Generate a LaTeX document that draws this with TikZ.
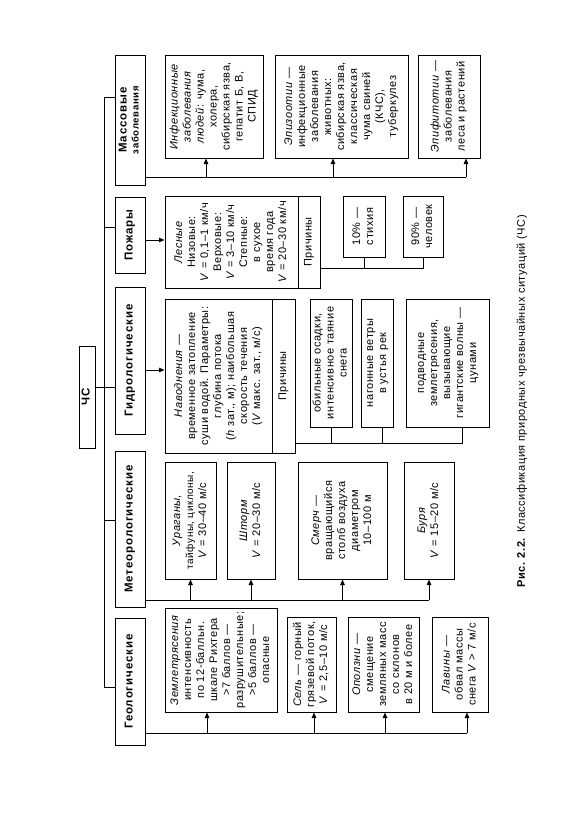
\documentclass[tikz,border=0pt]{standalone}
\usepackage{fontspec}
\setmainfont{Liberation Sans}[LetterSpace=5]
\newfontfamily\hdfont{Liberation Sans}[LetterSpace=8]
\usetikzlibrary{arrows.meta}
\newcommand\bodyfont{\fontsize{11}{13}\selectfont}
\newcommand\hdrfont{\hdfont\bfseries\fontsize{11.5}{12}\selectfont}
\newcommand\bx[6]{\node[box, minimum width={(#4-#2)*1pt}, minimum height={(#5-#3)*1pt}] (#1) at ({(#2+#4)/2},{(#3+#5)/2}) {\rotatebox{90}{\begin{tabular}{@{}c@{}}#6\end{tabular}}};}
\begin{document}
\begin{tikzpicture}[x=1pt,y=-1pt,
  box/.style={draw,line width=1pt,inner sep=0pt,font=\bodyfont},
  ln/.style={line width=1pt},
  arr/.style={ln,-{Triangle[length=5.5pt,width=4.5pt]}}]
\useasboundingbox (0,0) rectangle (583,827);
\fill[white] (0,0) rectangle (583,827);
% top level
\bx{chs}{79}{346}{95}{448}{\hdrfont ЧС}
\bx{mass}{115}{55}{145}{185}{\hdrfont Массовые\\[-1pt]{\hdfont\bfseries\fontsize{9.5}{10}\selectfont заболевания}}
\bx{fire}{115}{197}{145}{273}{\hdrfont Пожары}
\bx{hydro}{115}{287}{145}{434}{\hdrfont Гидрологические}
\bx{meteo}{115}{451}{145}{607}{\hdrfont Метеорологические}
\bx{geo}{115}{618}{145}{745}{\hdrfont Геологические}
% mass diseases
\bx{m1}{165}{55}{263}{158}{\textit{Инфекционные}\\\textit{заболевания}\\\textit{людей}: чума,\\холера,\\сибирская язва,\\гепатит Б, В,\\СПИД}
\bx{m2}{275}{55}{408}{158}{\textit{Эпизоотии} —\\инфекционные\\заболевания\\животных:\\сибирская язва,\\классическая\\чума свиней\\(КЧС),\\туберкулез}
\bx{m3}{418}{55}{480}{158}{\textit{Эпифитотии} —\\заболевания\\леса и растений}
% fires
\bx{forest}{165}{196}{298}{288}{\textit{Лесные}\\Низовые:\\\textit{V} = 0,1–1 км/ч\\Верховые:\\\textit{V} = 3–10 км/ч\\Степные:\\в сухое\\время года\\\textit{V} = 20–30 км/ч}
\bx{fcause}{298}{196}{320}{288}{Причины}
\bx{p10}{343}{196}{385}{257}{10\% —\\стихия}
\bx{p90}{403}{196}{443}{257}{90\% —\\человек}
% hydrological
\bx{flood}{165}{299}{272}{453}{\textit{Наводнения} —\\временное затопление\\суши водой. Параметры:\\глубина потока\\(\textit{h} зат., м); наибольшая\\скорость течения\\(\textit{V} макс. зат., м/с)}
\bx{hcause}{272}{299}{295}{453}{Причины}
\bx{ha}{310}{299}{352}{427}{обильные осадки,\\интенсивное таяние\\снега}
\bx{hb}{361}{299}{393}{427}{нагонные ветры\\в устья рек}
\bx{hc}{406}{299}{489}{427}{подводные\\землетрясения,\\вызывающие\\гигантские волны —\\цунами}
% meteorological
\bx{ur}{165}{462}{216}{579}{\textit{Ураганы},\\{\fontsize{10}{13}\selectfont тайфуны, циклоны,}\\\textit{V} = 30–40 м/с}
\bx{st}{227}{462}{275}{579}{\textit{Шторм}\\\textit{V} = 20–30 м/с}
\bx{sm}{298}{462}{387}{579}{\textit{Смерч} —\\вращающийся\\столб воздуха\\диаметром\\10–100 м}
\bx{bu}{404}{462}{454}{579}{\textit{Буря}\\\textit{V} = 15–20 м/с}
% geological
\bx{eq}{165}{608}{277}{712}{\textit{Землетрясения}\\интенсивность\\по 12-балльн.\\шкале Рихтера\\>7 баллов —\\разрушительные;\\>5 баллов —\\опасные}
\bx{sel}{287}{617}{336}{712}{\textit{Сель} — горный\\грязевой поток,\\\textit{V} = 2,5–10 м/с}
\bx{opl}{348}{617}{419}{712}{\textit{Оползни} —\\смещение\\земляных масс\\со склонов\\в 20 м и более}
\bx{lav}{432}{617}{488}{712}{\textit{Лавины} —\\обвал массы\\снега \textit{V} > 7 м/с}
% caption
\node[rotate=90,anchor=west,inner sep=0pt,font=\fontsize{11}{12}\selectfont] (cap) at (522,588) {\textbf{Рис. 2.2.} Классификация природных чрезвычайных ситуаций (ЧС)};
% trunk
\coordinate (tTop) at (104,97);
\coordinate (tBot) at (104,687);
\draw[ln] (mass.west |- tTop) -- (tTop) -- (tBot) -- (geo.west |- tBot);
\draw[ln] (fire.west |- 0,227) -- (tTop |- 0,227);
\draw[ln] (chs.east |- 0,387) -- (hydro.west |- 0,387);
\draw[ln] (meteo.west |- 0,520) -- (tTop |- 0,520);
% mass bus
\coordinate (mb) at (466,177);
\draw[ln] (mass.east |- mb) -- (mb);
\draw[arr] ([xshift=-8pt]m1.south |- mb) -- ([xshift=-8pt]m1.south);
\draw[arr] ([xshift=-8.5pt]m2.south |- mb) -- ([xshift=-8.5pt]m2.south);
\draw[arr] (mb) -- (m3.south -| mb);
% fires
\draw[arr] (fire.east |- 0,240) -- (forest.west |- 0,240);
\coordinate (fb) at (423,268);
\draw[ln] (fcause.east |- fb) -- (fb) -- (p90.south -| fb);
\draw[ln] (p10.south |- fb) -- (p10.south);
% hydro
\draw[arr] (hydro.east |- 0,370) -- (flood.west |- 0,370);
\coordinate (hbus) at (462,443);
\draw[ln] (hcause.east |- hbus) -- (hbus) -- (hc.south -| hbus);
\draw[ln] (ha.south |- hbus) -- (ha.south);
\draw[ln] ([xshift=5pt]hb.south |- hbus) -- ([xshift=5pt]hb.south);
% meteo
\draw[ln] (meteo.east |- 0,600) -- (bu.south |- 0,600);
\foreach \n in {ur,st,sm,bu} \draw[arr] (\n.south |- 0,600) -- (\n.south);
% geo
\coordinate (gb) at (467,733);
\draw[ln] (geo.east |- gb) -- (gb);
\draw[arr] (gb) -- (lav.south -| gb);
\draw[arr] ([xshift=-14pt]eq.south |- gb) -- ([xshift=-14pt]eq.south);
\draw[arr] ([xshift=2.5pt]sel.south |- gb) -- ([xshift=2.5pt]sel.south);
\draw[arr] ([xshift=1.5pt]opl.south |- gb) -- ([xshift=1.5pt]opl.south);
\end{tikzpicture}
\end{document}
